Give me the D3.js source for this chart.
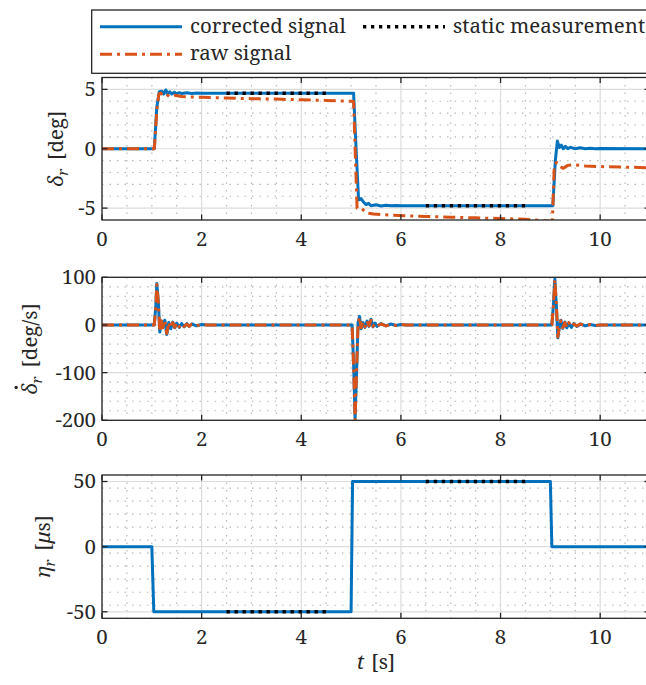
<!DOCTYPE html>
<html>
<head>
<meta charset="utf-8">
<script src="https://cdn.jsdelivr.net/npm/d3@7"></script>
<style>
  body { margin: 0; background: #fff; }
  text { fill: #262626; }
</style>
</head>
<body>
<svg id="canvas" width="646" height="685"></svg>
<script>
const xTicks = [0, 2, 4, 6, 8, 10];

// rudder angle delta_r [deg]
const deltaCorrT = [0, 1.05, 1.1, 1.15, 1.2, 1.24, 1.28, 1.32, 1.36, 1.4, 1.45, 1.5, 1.55, 1.6, 1.7, 1.8, 1.9, 2.0,
  5.05, 5.1, 5.15, 5.2, 5.25, 5.3, 5.35, 5.4, 5.5, 5.6, 5.7, 5.8, 5.9, 6.0,
  9.05, 9.1, 9.14, 9.18, 9.22, 9.26, 9.3, 9.35, 9.4, 9.5, 9.6, 9.7, 9.8, 9.9, 10.0, 11.0];
const deltaCorrV = [0, 0, 3.5, 4.8, 4.85, 4.6, 4.95, 4.6, 4.8, 4.6, 4.75, 4.62, 4.72, 4.65, 4.72, 4.66, 4.7, 4.68,
  4.68, 0, -4.3, -4.2, -4.5, -4.7, -4.6, -4.8, -4.72, -4.82, -4.75, -4.8, -4.77, -4.79,
  -4.79, -1.0, 0.65, 0.1, 0.3, 0.0, 0.2, 0.0, 0.12, 0.0, 0.08, 0.0, 0.05, 0.0, 0.02, 0.0];
const deltaRawT = [0, 1.05, 1.1, 1.14, 1.18, 1.22, 1.28, 1.35, 1.45, 1.6, 2.0, 2.5, 3.0, 3.5, 4.0, 4.5, 5.0, 5.05,
  5.12, 5.17, 5.22, 5.3, 5.45, 5.8, 6.5, 7.0, 7.5, 8.0, 8.5, 9.0,
  9.04, 9.08, 9.13, 9.2, 9.26, 9.35, 9.46, 9.7, 10.0, 10.5, 11.0];
const deltaRawV = [0, 0, 3.2, 4.6, 4.7, 4.5, 4.62, 4.4, 4.5, 4.4, 4.33, 4.27, 4.22, 4.18, 4.12, 4.07, 4.0, 3.98,
  -5.0, -5.1, -5.05, -5.4, -5.5, -5.6, -5.7, -5.76, -5.82, -5.88, -5.94, -6.1,
  -6.1, -1.3, -1.15, -1.5, -1.65, -1.4, -1.35, -1.45, -1.5, -1.55, -1.6];

// rudder rate [deg/s]
const rateT = [0, 1.05, 1.08, 1.1, 1.13, 1.16, 1.19, 1.22, 1.26, 1.3, 1.34, 1.38, 1.42, 1.46, 1.5, 1.55, 1.6, 1.65, 1.7, 1.75, 1.8, 1.9, 2.0, 2.1,
  5.02, 5.05, 5.08, 5.11, 5.14, 5.17, 5.2, 5.24, 5.28, 5.32, 5.36, 5.4, 5.44, 5.48, 5.52, 5.6, 5.7, 5.8, 5.9, 6.0, 6.1,
  9.03, 9.06, 9.09, 9.12, 9.15, 9.18, 9.21, 9.25, 9.29, 9.33, 9.37, 9.42, 9.47, 9.53, 9.6, 9.7, 9.8, 9.9, 10.0, 11.0];
const rateCorrV = [0, 0, 40, 87, 50, -15, 8, -5, 10, -20, 5, -8, 6, -6, 4, -5, 3, -4, 3, -3, 2, -2, 1, 0,
  0, -80, -196, -100, 5, 18, -8, 5, -5, 8, -3, 12, -4, 4, -3, 3, -2, 2, -1, 1, 0,
  0, 40, 97, 40, -27, -5, 10, -7, 6, -6, 4, -5, 3, -3, 2, -2, 1, -1, 0, 0];
const rateRawV = [0, 0, 38, 85, 48, -14, 9, -6, 9, -18, 6, -7, 5, -5, 5, -4, 3, -3, 2, -3, 2, -1, 1, 0,
  0, -85, -200, -95, 3, 16, -6, 6, -4, 9, -2, 10, -3, 3, -2, 2, -2, 1, -1, 1, 0,
  0, 38, 95, 45, -25, -4, 9, -6, 5, -5, 5, -4, 2, -2, 2, -1, 1, -1, 0, 0];

// servo pulse eta_r [us]
const etaT = [0, 1.0, 1.04, 5.0, 5.03, 9.0, 9.03, 11.0];
const etaV = [0, 0, -50, -50, 50, 50, 0, 0];

// static measurement windows
const staticStart = [2.5, 6.5];
const staticEnd = [4.5, 8.5];
const staticDelta = [4.68, -4.79];
const staticEta = [-50, 50];

const blue = "#0072BD";
const orange = "#D95319";
const dark = "#262626";
const rawDash = "12,5,3,5";
const staticDash = "3.3,4.7";

const zip = (t, v) => t.map((d, i) => [d, v[i]]);
const seg = (vals) => staticStart.map((s, i) => [[s, vals[i]], [staticEnd[i], vals[i]]]);

const canvas = d3.select("#canvas");

// pick the first serif face that is really installed, and size it so text widths match
const probe = canvas.append("text").attr("font-size", 40).text("corrected signal");
const widthOf = (f) => probe.attr("font-family", f).node().getComputedTextLength();
const base = widthOf("NoSuchFontXYZ");
const candidates = ["Liberation Serif", "Tinos", "Noto Serif", "Times New Roman", "DejaVu Serif", "serif"];
const serif = candidates.find((f) => Math.abs(widthOf(`'${f}'`) - base) > 0.5) || "serif";
const font = `'${serif}', serif`;
const fs = Math.min(23, 40 * 156 / widthOf(font));
probe.remove();
const sub = fs * 0.72;

const x0 = 102, x1 = 650;

const panels = [
  { top: 77.5, bottom: 220, domain: [-6, 6], ticks: [-5, 0, 5], minor: 1,
    label: "delta", series: [
      { data: zip(deltaCorrT, deltaCorrV), color: blue },
      { data: zip(deltaRawT, deltaRawV), color: orange, dash: rawDash }
    ], statics: seg(staticDelta), labelX: 57 },
  { top: 277.3, bottom: 420.3, domain: [-200, 100], ticks: [-200, -100, 0, 100], minor: 20,
    label: "rate", series: [
      { data: zip(rateT, rateCorrV), color: blue },
      { data: zip(rateT, rateRawV), color: orange, dash: rawDash }
    ], statics: [], labelX: 31 },
  { top: 475, bottom: 618.3, domain: [-55, 55], ticks: [-50, 0, 50], minor: 10,
    label: "eta", series: [
      { data: zip(etaT, etaV), color: blue }
    ], statics: seg(staticEta), labelX: 44 }
];

const x = d3.scaleLinear().domain([0, 11]).range([x0, x1]);

panels.forEach((p, pi) => {
  const y = d3.scaleLinear().domain(p.domain).range([p.bottom, p.top]);
  const g = canvas.append("g").attr("font-family", font);

  // minor grid
  const minorX = d3.range(0, 11.001, 0.5).filter((v) => v % 2 !== 0);
  const minorY = d3.range(p.domain[0], p.domain[1] + 0.001, p.minor)
    .filter((v) => !p.ticks.includes(v) && v > p.domain[0] && v < p.domain[1]);
  g.selectAll(".mx").data(minorX).enter().append("line")
    .attr("x1", (d) => x(d)).attr("x2", (d) => x(d))
    .attr("y1", p.top).attr("y2", p.bottom)
    .attr("stroke", "#b8b8b8").attr("stroke-width", 1.2).attr("stroke-dasharray", "1.5,6");
  g.selectAll(".my").data(minorY).enter().append("line")
    .attr("x1", x0).attr("x2", x1)
    .attr("y1", (d) => y(d)).attr("y2", (d) => y(d))
    .attr("stroke", "#b8b8b8").attr("stroke-width", 1.2).attr("stroke-dasharray", "1.5,6");

  // major grid
  g.selectAll(".gx").data(xTicks).enter().append("line")
    .attr("x1", (d) => x(d)).attr("x2", (d) => x(d))
    .attr("y1", p.top).attr("y2", p.bottom)
    .attr("stroke", "#dcdcdc").attr("stroke-width", 1.2);
  g.selectAll(".gy").data(p.ticks).enter().append("line")
    .attr("x1", x0).attr("x2", x1)
    .attr("y1", (d) => y(d)).attr("y2", (d) => y(d))
    .attr("stroke", "#dcdcdc").attr("stroke-width", 1.2);

  // data
  const clipId = "clip" + pi;
  canvas.append("clipPath").attr("id", clipId).append("rect")
    .attr("x", x0).attr("y", p.top).attr("width", x1 - x0).attr("height", p.bottom - p.top);
  const line = d3.line().x((d) => x(d[0])).y((d) => y(d[1]));
  const plot = g.append("g").attr("clip-path", `url(#${clipId})`);
  p.series.forEach((s) => {
    plot.append("path").attr("d", line(s.data))
      .attr("fill", "none").attr("stroke", s.color).attr("stroke-width", 3)
      .attr("stroke-linejoin", "round")
      .attr("stroke-dasharray", s.dash || null);
  });
  p.statics.forEach((s) => {
    plot.append("path").attr("d", line(s))
      .attr("fill", "none").attr("stroke", "#000").attr("stroke-width", 3.5)
      .attr("stroke-dasharray", staticDash);
  });

  // frame and ticks
  g.append("rect").attr("x", x0).attr("y", p.top)
    .attr("width", x1 - x0).attr("height", p.bottom - p.top)
    .attr("fill", "none").attr("stroke", dark).attr("stroke-width", 1.3);
  const tl = 5.5;
  xTicks.forEach((t) => {
    g.append("line").attr("x1", x(t)).attr("x2", x(t)).attr("y1", p.bottom).attr("y2", p.bottom - tl)
      .attr("stroke", dark).attr("stroke-width", 1.3);
    g.append("line").attr("x1", x(t)).attr("x2", x(t)).attr("y1", p.top).attr("y2", p.top + tl)
      .attr("stroke", dark).attr("stroke-width", 1.3);
  });
  p.ticks.forEach((t) => {
    g.append("line").attr("x1", x0).attr("x2", x0 + tl).attr("y1", y(t)).attr("y2", y(t))
      .attr("stroke", dark).attr("stroke-width", 1.3);
    g.append("line").attr("x1", x1).attr("x2", x1 - tl).attr("y1", y(t)).attr("y2", y(t))
      .attr("stroke", dark).attr("stroke-width", 1.3);
  });

  // tick labels
  g.selectAll(".xl").data(xTicks).enter().append("text")
    .attr("x", (d) => x(d)).attr("y", p.bottom + 26)
    .attr("text-anchor", "middle").attr("font-size", fs)
    .text((d) => d);
  g.selectAll(".yl").data(p.ticks).enter().append("text")
    .attr("x", x0 - 6).attr("y", (d) => y(d) + fs * 0.34)
    .attr("text-anchor", "end").attr("font-size", fs)
    .text((d) => d);

  // y label
  const lg = g.append("g")
    .attr("transform", `translate(${p.labelX},${(p.top + p.bottom) / 2}) rotate(-90)`);
  const lab = lg.append("text").attr("font-size", fs).attr("dy", fs * 0.3);
  const sym = p.label === "eta" ? "\u03B7" : "\u03B4";
  lab.append("tspan").attr("font-style", "italic").text(sym);
  lab.append("tspan").attr("font-style", "italic").attr("font-size", sub).attr("dy", 5).text("r");
  if (p.label === "eta") {
    lab.append("tspan").attr("dy", -5).attr("dx", 9).text("[");
    lab.append("tspan").attr("font-style", "italic").text("\u03BC");
    lab.append("tspan").text("s]");
  } else {
    lab.append("tspan").attr("dy", -5).attr("dx", 9)
      .text(p.label === "delta" ? "[deg]" : "[deg/s]");
  }
  const len = lab.node().getComputedTextLength() + 9;
  lab.attr("x", -len / 2);
  if (p.label === "rate") {
    // dot accent over delta
    const ext = lab.node().getExtentOfChar(0);
    lg.append("circle").attr("cx", ext.x + ext.width * 0.62).attr("cy", ext.y + 1)
      .attr("r", 1.7).attr("fill", dark);
  }
});

// x axis label
const xl = canvas.append("text").attr("x", 376).attr("y", 669)
  .attr("text-anchor", "middle").attr("font-size", fs).attr("font-family", font);
xl.append("tspan").attr("font-style", "italic").text("t");
xl.append("tspan").attr("dx", 7).text("[s]");

// legend
const leg = canvas.append("g").attr("font-family", font);
leg.append("rect").attr("x", 91.7).attr("y", 10).attr("width", 580).attr("height", 63.3)
  .attr("fill", "#fff").attr("stroke", dark).attr("stroke-width", 1.3);
const legendItems = [
  { name: "corrected signal", color: blue, dash: null, lx: 100, ly: 26.7 },
  { name: "raw signal", color: orange, dash: rawDash, lx: 100, ly: 54.3 },
  { name: "static measurement", color: "#000", dash: staticDash, lx: 363, ly: 26.7 }
];
legendItems.forEach((d) => {
  leg.append("line").attr("x1", d.lx).attr("x2", d.lx + 82).attr("y1", d.ly).attr("y2", d.ly)
    .attr("stroke", d.color).attr("stroke-width", d.color === "#000" ? 3.5 : 3)
    .attr("stroke-dasharray", d.dash);
  leg.append("text").attr("x", d.lx + 90).attr("y", d.ly + fs * 0.3)
    .attr("font-size", fs).text(d.name);
});
</script>
</body>
</html>
